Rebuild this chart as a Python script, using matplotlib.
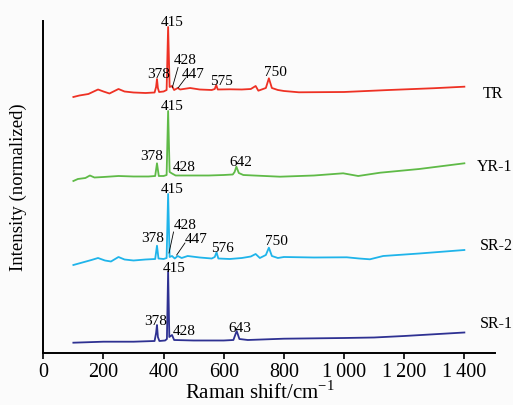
import matplotlib
matplotlib.use("Agg")
import matplotlib.pyplot as plt

plt.rcParams["font.family"] = ["Liberation Serif", "DejaVu Serif"]
plt.rcParams["mathtext.fontset"] = "custom"
plt.rcParams["mathtext.rm"] = "Liberation Serif"

# Raman spectra, stacked with vertical offsets (arbitrary intensity units)
tr_shift = [100, 120, 150, 182, 200, 220, 250, 270, 300, 340, 370, 375, 378, 381, 385,
            400, 410, 415, 420, 428, 435, 447, 455, 488, 520, 560, 570, 575, 580, 620,
            660, 690, 706, 715, 740, 750, 760, 780, 800, 850, 1000, 1150, 1300, 1400]
tr_int = [256, 257.5, 259, 263.5, 261.5, 259.5, 264, 261.5, 260.5, 260, 260.5, 266, 274, 265, 261,
          261.5, 263, 326, 266, 267, 263, 265, 263.5, 265, 263.5, 263, 264, 268, 263.5, 263.7,
          263.5, 264, 267, 262.3, 265, 274.7, 265, 263, 262, 260.7, 261, 263, 264.8, 266.3]

yr_shift = [100, 115, 140, 155, 170, 200, 250, 300, 350, 372, 378, 384, 400, 410, 415, 420,
            428, 440, 500, 550, 600, 630, 636, 642, 650, 665, 700, 787, 900, 997, 1047, 1120,
            1250, 1400]
yr_int = [172, 174, 175, 177.5, 175.5, 176, 177, 176.5, 176.5, 177, 189.7, 177, 177, 178, 242, 181,
          179.5, 177.5, 177.5, 177.5, 178, 178.5, 181, 186.3, 180, 178, 177.5, 176.3, 177.5, 179.7,
          177, 180.3, 184, 189.7]

sr2_shift = [100, 130, 160, 182, 205, 225, 250, 270, 300, 340, 372, 378, 383, 400, 410, 415, 420,
             428, 437, 447, 460, 480, 520, 560, 570, 576, 582, 620, 660, 690, 706, 720, 740, 750,
             760, 780, 800, 900, 1009, 1050, 1086, 1130, 1250, 1400]
sr2_int = [88, 90.5, 93, 95, 92.5, 91.5, 96, 93.5, 92.5, 93.5, 94, 107.3, 94.5, 94, 95, 159, 96,
           97, 94.5, 97, 95, 97, 95.5, 94.5, 96, 100.7, 94.5, 94, 95, 96.5, 99, 95, 98, 105.3,
           97, 95, 96, 95.5, 95.7, 94.5, 93.7, 97, 99.5, 103]

sr1_shift = [100, 200, 300, 370, 375, 378, 381, 386, 405, 411, 415, 419, 428, 435, 500, 600, 632,
             643, 652, 680, 800, 1000, 1100, 1200, 1400]
sr1_int = [10.3, 11.3, 11.3, 12, 20, 28, 16, 12, 12.5, 14, 81.3, 16, 18, 13, 12.5, 12.5, 13,
           22, 14, 13, 14.3, 15, 15.5, 17, 20.5]

sample_names = ["TR", "YR-1", "SR-2", "SR-1"]
sample_colors = ["#ee3124", "#5fba47", "#1fb4ea", "#2e3192"]

# Peak labels: (text, x, baseline y)
tr_peaks = [("415", 430, 327), ("378", 385, 275), ("428", 471, 289), ("447", 498, 275),
            ("575", 593, 268), ("750", 771, 276.5)]
yr_peaks = [("415", 430, 243), ("378", 361, 193), ("428", 468, 181.5), ("642", 658, 186.5)]
sr2_peaks = [("415", 430, 160), ("378", 365, 111), ("428", 471, 124), ("447", 508, 110),
             ("576", 596, 101), ("750", 774, 108)]
sr1_peaks = [("415", 435, 81), ("378", 373, 28), ("428", 468, 18), ("643", 654, 21)]

# Leader lines from small peaks to their labels: ((x0, x1), (y0, y1))
leaders = [((429, 448), (265.5, 285.5)), ((448, 473), (265, 275)),
           ((418, 433), (100, 121)), ((443.5, 471), (98, 110))]

name_pos = [(1462, 255.3), (1440, 182.3), (1450, 103), (1450, 24.7)]

fig = plt.figure(figsize=(5.13, 4.05), dpi=100, facecolor="#fbfbfb")
ax = fig.add_axes([0.0844, 0.1284, 0.8806, 0.8205])
ax.set_facecolor("#fbfbfb")

series = [(tr_shift, tr_int), (yr_shift, yr_int), (sr2_shift, sr2_int), (sr1_shift, sr1_int)]
for (xs, ys), c in zip(series, sample_colors):
    ax.plot(xs, ys, color=c, lw=1.3, solid_joinstyle="round")

for peaks in (tr_peaks, yr_peaks, sr2_peaks, sr1_peaks):
    for txt, x, y in peaks:
        ax.text(x, y, txt, ha="center", va="baseline", fontsize=11, clip_on=False)

for xs, ys in leaders:
    ax.plot(xs, ys, color="black", lw=0.6)

for name, (x, y) in zip(sample_names, name_pos):
    ax.text(x, y, name, ha="left", va="baseline", fontsize=11.5, clip_on=False)

ax.set_xlim(0, 1502)
ax.set_ylim(0, 332.3)
ax.set_xticks([0, 200, 400, 600, 800, 1000, 1200, 1400])
ax.set_xticklabels(["0", "200", "400", "600", "800", "1\u2009000", "1\u2009200", "1\u2009400"])
ax.set_yticks([])
ax.tick_params(axis="x", direction="out", length=4, width=1.2, labelsize=14.5, pad=3)
for side in ("top", "right"):
    ax.spines[side].set_visible(False)
for side in ("left", "bottom"):
    ax.spines[side].set_linewidth(1.4)

ax.set_xlabel("Raman shift/cm$^{-1}$", fontsize=15, labelpad=2)
ax.xaxis.set_label_coords(0.48, -0.085)
ax.set_ylabel("Intensity (normalized)", fontsize=13.5, labelpad=12)

fig.savefig("out.png", dpi=100, facecolor=fig.get_facecolor())
